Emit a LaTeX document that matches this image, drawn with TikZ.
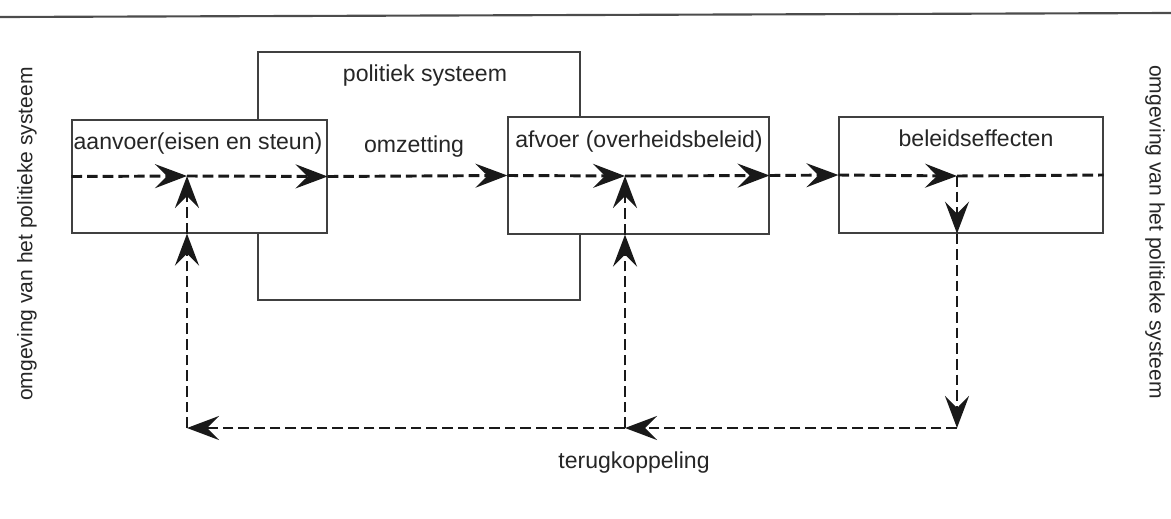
\documentclass[tikz,border=0pt]{standalone}
\usepackage{fontspec}
\setmainfont{Liberation Sans}
\usetikzlibrary{arrows.meta}

\tikzset{every picture/.style={line width=0.75pt}}
\tikzset{
  blok/.style={draw=black!75, fill=white, line width=0.9pt, inner sep=0pt},
  tekst/.style={inner sep=0.75pt, text=black!85, font=\fontsize{17.3}{20}\selectfont},
  zijtekst/.style={tekst, font=\fontsize{15.8}{18}\selectfont},
  lijn/.style={draw=black!90, line width=2.2pt, dash pattern=on 8pt off 3.75pt},
  stroom/.style={lijn, -{Stealth[length=24pt,width=18pt,inset=9pt]}}
}

\begin{document}
\begin{tikzpicture}[x=0.75pt,y=0.75pt,yscale=-1,xscale=1]
\useasboundingbox (0,0) rectangle (1171,518);

% kopregel
\draw [draw=black!70, line width=1.6pt] (0,17) -- (1171,13) ;

% blokken
\node [blok, minimum width=241.5pt, minimum height=186pt] (politiek) at (419,176) {};
\node [blok, minimum width=191.25pt, minimum height=84.75pt] (aanvoer) at (199.5,176.5) {};
\node [blok, minimum width=195.75pt, minimum height=87.75pt] (afvoer) at (638.5,175.5) {};
\node [blok, minimum width=198pt, minimum height=87pt] (beleid) at (971,175) {};

% teksten
\node [tekst] (tpolitiek) at (425,76) {politiek systeem};
\node [tekst] (taanvoer) at (198,144) {aanvoer(eisen en steun)};
\node [tekst] (tomzetting) at (414,147) {omzetting};
\node [tekst] (tafvoer) at (639,142) {afvoer (overheidsbeleid)};
\node [tekst] (tbeleid) at (976,138) {beleidseffecten};
\node [tekst] (tterug) at (634,463) {terugkoppeling};
\node [zijtekst, rotate=90] (tomgevingL) at (27,234) {omgeving van het politieke systeem};
\node [zijtekst, rotate=-90] (tomgevingR) at (1155,232) {omgeving van het politieke systeem};

% knooppunten
\coordinate (j1) at (187,176);
\coordinate (j2) at (625,176);
\coordinate (j3) at (957,176);
\coordinate (c1) at (187,428);
\coordinate (c2) at (625,428);
\coordinate (c3) at (957,428);

% hoofdstroom
\draw [stroom] (aanvoer.west) -- (j1) ;
\draw [stroom] (j1) -- (aanvoer.east) ;
\draw [stroom] (aanvoer.east) -- (afvoer.west) ;
\draw [stroom] (afvoer.west) -- (j2) ;
\draw [stroom] (j2) -- (afvoer.east) ;
\draw [stroom] (afvoer.east) -- (beleid.west) ;
\draw [stroom] (beleid.west) -- (j3) ;
\draw [lijn] (j3) -- (beleid.east) ;

% terugkoppeling
\draw [stroom] (j3) -- (j3 |- beleid.south) ;
\draw [stroom] (j3 |- beleid.south) -- (c3) ;
\draw [stroom] (c3) -- (c2) ;
\draw [stroom] (c2) -- (c1) ;
\draw [stroom] (c1) -- (j1 |- aanvoer.south) ;
\draw [stroom] (j1 |- aanvoer.south) -- (j1) ;
\draw [stroom] (c2) -- (j2 |- afvoer.south) ;
\draw [stroom] (j2 |- afvoer.south) -- (j2) ;

\end{tikzpicture}
\end{document}
